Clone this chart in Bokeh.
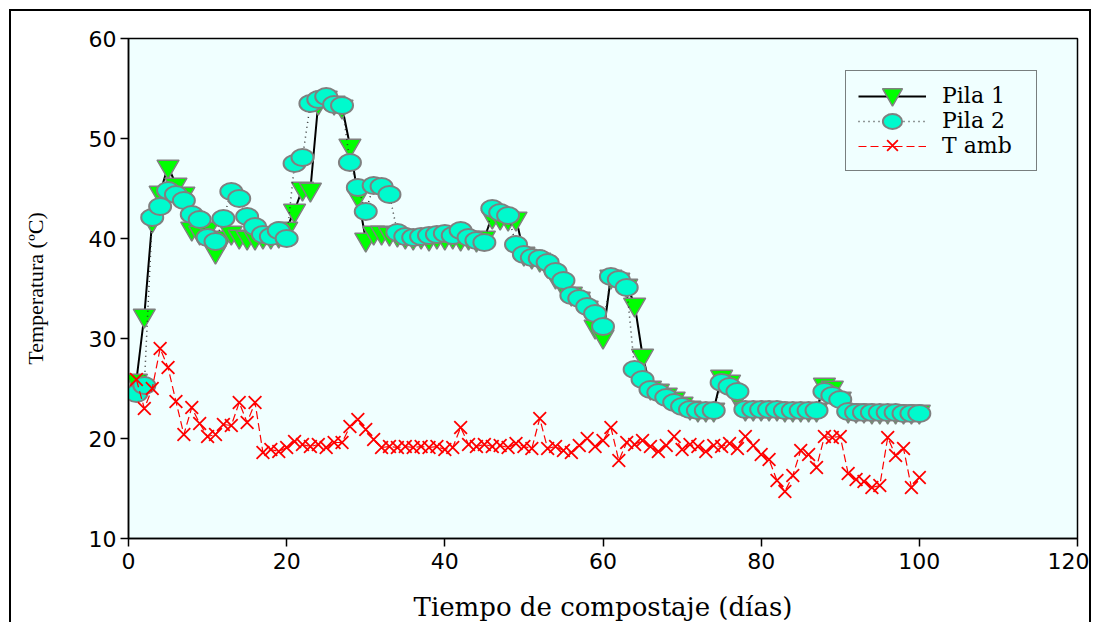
from bokeh.plotting import figure
from bokeh.models import Range1d, Legend, LegendItem
from bokeh.embed import file_html
from bokeh.resources import INLINE

days = list(range(1, 101))

pila1 = [25.8, 32.3, 41.8, 44.6, 47.2, 45.4, 44.5, 41.0, 40.6, 41.0,
         38.7, 40.1, 40.6, 40.2, 40.1, 40.1, 40.2, 40.2, 40.3, 41.0,
         42.8, 45.0, 44.9, 53.6, 54.1, 53.6, 53.2, 49.3, 44.3, 39.9,
         40.6, 40.6, 40.5, 40.4, 40.2, 40.1, 40.2, 40.0, 40.2, 40.1,
         40.2, 40.0, 40.1, 39.9, 40.1, 42.2, 42.1, 42.0, 42.0, 38.5,
         38.2, 37.9, 37.3, 36.2, 35.3, 34.5, 34.0, 33.1, 31.2, 30.2,
         36.2, 35.9, 35.3, 33.4, 28.3, 25.1, 24.8, 24.4, 24.0, 23.5,
         23.1, 22.9, 22.9, 22.9, 26.2, 25.7, 24.2, 23.0, 23.0, 23.0,
         23.0, 23.0, 22.9, 22.9, 22.9, 22.9, 22.9, 25.4, 25.1, 24.0,
         22.8, 22.8, 22.8, 22.7, 22.7, 22.7, 22.7, 22.7, 22.7, 22.7]

pila2 = [24.5, 25.3, 42.1, 43.2, 44.8, 44.4, 43.8, 42.4, 41.9, 40.1,
         39.7, 42.0, 44.7, 44.0, 42.2, 41.2, 40.4, 40.2, 40.8, 40.0,
         47.5, 48.1, 53.5, 53.9, 54.2, 53.4, 53.3, 47.6, 45.1, 42.7,
         45.3, 45.2, 44.4, 40.6, 40.2, 40.1, 40.2, 40.3, 40.4, 40.5,
         40.3, 40.8, 40.1, 39.8, 39.6, 43.0, 42.6, 42.3, 39.4, 38.4,
         38.1, 38.0, 37.6, 36.7, 35.8, 34.3, 34.0, 33.2, 32.5, 31.2,
         36.2, 35.9, 35.1, 26.9, 25.9, 24.9, 24.6, 24.1, 23.6, 23.2,
         22.9, 22.8, 22.8, 22.8, 25.6, 25.2, 24.7, 22.9, 22.9, 22.9,
         22.9, 22.9, 22.8, 22.8, 22.8, 22.8, 22.8, 24.7, 24.3, 23.9,
         22.7, 22.6, 22.6, 22.6, 22.6, 22.6, 22.6, 22.5, 22.5, 22.5]

tamb = [25.9, 23.0, 25.0, 29.0, 27.1, 23.7, 20.4, 23.1, 21.5, 20.2,
        20.4, 21.4, 21.3, 23.6, 21.6, 23.6, 18.6, 18.9, 18.7, 19.1,
        19.7, 19.4, 19.2, 19.4, 19.1, 19.6, 19.6, 21.2, 21.9, 20.9,
        19.9, 19.1, 19.2, 19.1, 19.2, 19.1, 19.2, 19.1, 19.2, 18.9,
        19.1, 21.1, 19.4, 19.2, 19.4, 19.2, 19.3, 19.1, 19.5, 19.2,
        19.0, 22.0, 19.0, 19.2, 18.8, 18.6, 19.3, 20.0, 19.2, 19.8,
        21.1, 17.8, 19.6, 19.4, 19.8, 19.2, 18.7, 19.3, 20.2, 18.9,
        19.4, 19.2, 18.7, 19.3, 19.2, 19.5, 19.0, 20.2, 19.3, 18.4,
        17.9, 15.8, 14.7, 16.3, 18.8, 18.4, 17.1, 20.2, 20.1, 20.2,
        16.5, 15.9, 15.7, 15.1, 15.3, 20.1, 18.3, 19.0, 15.1, 16.1]

x_ticks = [0, 20, 40, 60, 80, 100, 120]
y_ticks = [10, 20, 30, 40, 50, 60]

p = figure(width=1082, height=613,
           x_range=Range1d(0, 120), y_range=Range1d(10, 60),
           output_backend="svg", toolbar_location=None,
           min_border_left=117, min_border_right=16,
           min_border_top=27, min_border_bottom=85)
p.styles = {"border-top": "2px solid black",
            "border-left": "2px solid black",
            "border-right": "2px solid black",
            "margin-left": "9px",
            "margin-top": "9px"}
p.background_fill_color = "#F0FFFF"
p.border_fill_color = "white"
p.outline_line_color = "black"
p.outline_line_width = 1.5
p.grid.visible = False

for ax in (p.xaxis, p.yaxis):
    ax.major_label_text_font = "DejaVu Sans"
    ax.major_label_text_font_size = "22px"
    ax.major_label_text_color = "black"
    ax.major_tick_out = 8
    ax.major_tick_in = 0
    ax.minor_tick_out = 0
    ax.minor_tick_in = 0
    ax.axis_line_width = 1.5
    ax.major_tick_line_width = 1.5
    ax.axis_label_text_font_style = "normal"
    ax.axis_label_text_color = "black"

p.xaxis.ticker = x_ticks
p.yaxis.ticker = y_ticks
p.xaxis.major_label_standoff = 6
p.yaxis.major_label_standoff = 4

p.xaxis.axis_label = "Tiempo de compostaje (días)"
p.xaxis.axis_label_text_font = "DejaVu Serif"
p.xaxis.axis_label_text_font_size = "26px"
p.xaxis.axis_label_standoff = 20

p.yaxis.axis_label = "Temperatura (ºC)"
p.yaxis.axis_label_text_font = "Liberation Serif"
p.yaxis.axis_label_text_font_size = "22px"
p.yaxis.axis_label_standoff = 38

r1l = p.line(days, pila1, line_color="black", line_width=2)
r1m = p.scatter(days, pila1, marker="inverted_triangle", size=22,
                fill_color="#00FF00", line_color="#808080", line_width=1.5)
r2l = p.line(days, pila2, line_color="#333333", line_width=1.5, line_dash="1 4")
r2m = p.ellipse(days, pila2, width=22, height=17,
                width_units="screen", height_units="screen",
                fill_color="#00FACD", line_color="#808080", line_width=2)
r3l = p.line(days, tamb, line_color="red", line_width=1.2, line_dash="8 4")
r3m = p.scatter(days, tamb, marker="x", size=18, line_color="red", line_width=1.8)


def style_legend(lg, padding, gw, gh, standoff, lw):
    lg.margin = 0
    lg.padding = padding
    lg.spacing = 0
    lg.glyph_width = gw
    lg.glyph_height = gh
    lg.label_standoff = standoff
    lg.label_height = 24
    lg.label_width = lw
    lg.label_text_font = "DejaVu Serif"
    lg.label_text_font_size = "22px"
    lg.label_text_color = "black"


# main legend box: lines, ellipse and labels
legend = Legend(items=[
    LegendItem(label="Pila 1", renderers=[r1l]),
    LegendItem(label="Pila 2", renderers=[r2l, r2m]),
    LegendItem(label="T amb", renderers=[r3l]),
], location=(717, 367))
style_legend(legend, 12, 68, 24, 16, 82)
legend.border_line_color = "black"
legend.border_line_width = 1.5
legend.background_fill_color = "#F0FFFF"
legend.background_fill_alpha = 1.0
p.add_layout(legend)

# overlay legends carrying the larger marker samples
tri_legend = Legend(items=[LegendItem(label=" ", renderers=[r1m])],
                    location=(739, 419))
style_legend(tri_legend, 0, 50, 50, 0, 0)
tri_legend.border_line_alpha = 0
tri_legend.background_fill_alpha = 0
p.add_layout(tri_legend)

x_legend = Legend(items=[LegendItem(label=" ", renderers=[r3m])],
                  location=(745, 374))
style_legend(x_legend, 0, 38, 38, 0, 0)
x_legend.border_line_alpha = 0
x_legend.background_fill_alpha = 0
p.add_layout(x_legend)

open("out.html", "w").write(file_html(p, INLINE))
